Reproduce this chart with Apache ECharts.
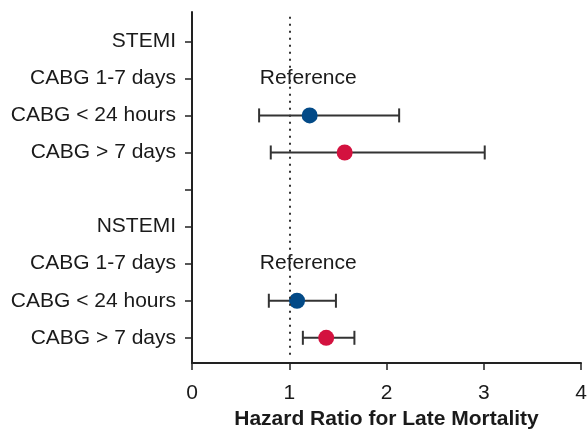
<!DOCTYPE html>
<html>
<head>
<meta charset="utf-8">
<script src="https://cdn.jsdelivr.net/npm/echarts@6/dist/echarts.min.js"></script>
<style>
    html, body { margin: 0; padding: 0; background: #fff; }
    #chart { width: 588px; height: 431px; }
</style>
</head>
<body>
<div id="chart"></div>
<script>
// row labels, top to bottom
var rowLabels = ['STEMI', 'CABG 1-7 days', 'CABG < 24 hours', 'CABG > 7 days', '',
    'NSTEMI', 'CABG 1-7 days', 'CABG < 24 hours', 'CABG > 7 days'];
var xTicks = [0, 1, 2, 3, 4];

// STEMI, NSTEMI
var refRows = [1, 6];
var rows24h = [2, 7];
var hr24h = [1.21, 1.08];
var lo24h = [0.69, 0.79];
var hi24h = [2.13, 1.48];

var rows7d = [3, 8];
var hr7d = [1.57, 1.38];
var lo7d = [0.81, 1.14];
var hi7d = [3.01, 1.67];

var rowOffset = 0.79;
var textColor = '#1a1a1a';
var font = '"Liberation Sans", Arial, Helvetica, sans-serif';

function y(row) { return row + rowOffset; }

var tickValues = rowLabels.map(function (l, i) { return y(i); });

var barData = [];
rows24h.forEach(function (r, i) { barData.push([lo24h[i], hi24h[i], y(r)]); });
rows7d.forEach(function (r, i) { barData.push([lo7d[i], hi7d[i], y(r)]); });

var chart = echarts.init(document.getElementById('chart'));
chart.setOption({
    animation: false,
    textStyle: { fontFamily: font },
    grid: { left: 192, right: 7, top: 12, bottom: 68, outerBoundsMode: 'none', containLabel: false },
    xAxis: {
        type: 'value',
        min: xTicks[0],
        max: xTicks[xTicks.length - 1],
        interval: 1,
        name: 'Hazard Ratio for Late Mortality',
        nameLocation: 'middle',
        nameGap: 45,
        nameTextStyle: { fontSize: 21, fontWeight: 'bold', color: textColor, fontFamily: font },
        axisLine: { onZero: false, lineStyle: { color: '#222', width: 2 } },
        axisTick: { length: 7, lineStyle: { color: '#222', width: 1.5 } },
        axisLabel: { fontSize: 21, color: textColor, margin: 20, fontFamily: font, showMaxLabel: true },
        splitLine: { show: false }
    },
    yAxis: {
        type: 'value',
        inverse: true,
        min: 0,
        max: 9.47,
        axisLine: { show: true, onZero: false, lineStyle: { color: '#222', width: 2 } },
        axisTick: { show: true, length: 7, customValues: tickValues, lineStyle: { color: '#222', width: 1.5 } },
        axisLabel: {
            customValues: tickValues,
            fontSize: 21,
            color: textColor,
            margin: 16,
            fontFamily: font,
            formatter: function (v) {
                return rowLabels[Math.round(v - rowOffset)] || '';
            }
        },
        splitLine: { show: false }
    },
    series: [
        {
            type: 'custom',
            name: 'ci',
            data: barData,
            renderItem: function (params, api) {
                var a = api.coord([api.value(0), api.value(2)]);
                var b = api.coord([api.value(1), api.value(2)]);
                var h = 7;
                var st = { stroke: '#333', lineWidth: 2 };
                return {
                    type: 'group',
                    children: [
                        { type: 'line', shape: { x1: a[0], y1: a[1], x2: b[0], y2: b[1] }, style: st },
                        { type: 'line', shape: { x1: a[0], y1: a[1] - h, x2: a[0], y2: a[1] + h }, style: st },
                        { type: 'line', shape: { x1: b[0], y1: b[1] - h, x2: b[0], y2: b[1] + h }, style: st }
                    ]
                };
            },
            markLine: {
                silent: true,
                symbol: 'none',
                label: { show: false },
                lineStyle: { color: '#333', width: 2, type: [2, 5] },
                data: [[{ coord: [1, 0.13] }, { coord: [1, 9.28] }]]
            },
            z: 2
        },
        {
            type: 'scatter',
            name: 'CABG < 24 hours',
            symbolSize: 16,
            itemStyle: { color: '#034a87', opacity: 1 },
            data: rows24h.map(function (r, i) { return [hr24h[i], y(r)]; }),
            z: 3
        },
        {
            type: 'scatter',
            name: 'CABG > 7 days',
            symbolSize: 16,
            itemStyle: { color: '#d3123f', opacity: 1 },
            data: rows7d.map(function (r, i) { return [hr7d[i], y(r)]; }),
            z: 3
        },
        {
            type: 'scatter',
            name: 'reference',
            symbolSize: 0,
            silent: true,
            itemStyle: { opacity: 1 },
            label: {
                show: true,
                position: 'inside',
                offset: [19, 0],
                formatter: 'Reference',
                fontSize: 21,
                color: textColor,
                fontFamily: font
            },
            data: refRows.map(function (r) { return [1, y(r)]; }),
            z: 4
        }
    ]
});
</script>
</body>
</html>
